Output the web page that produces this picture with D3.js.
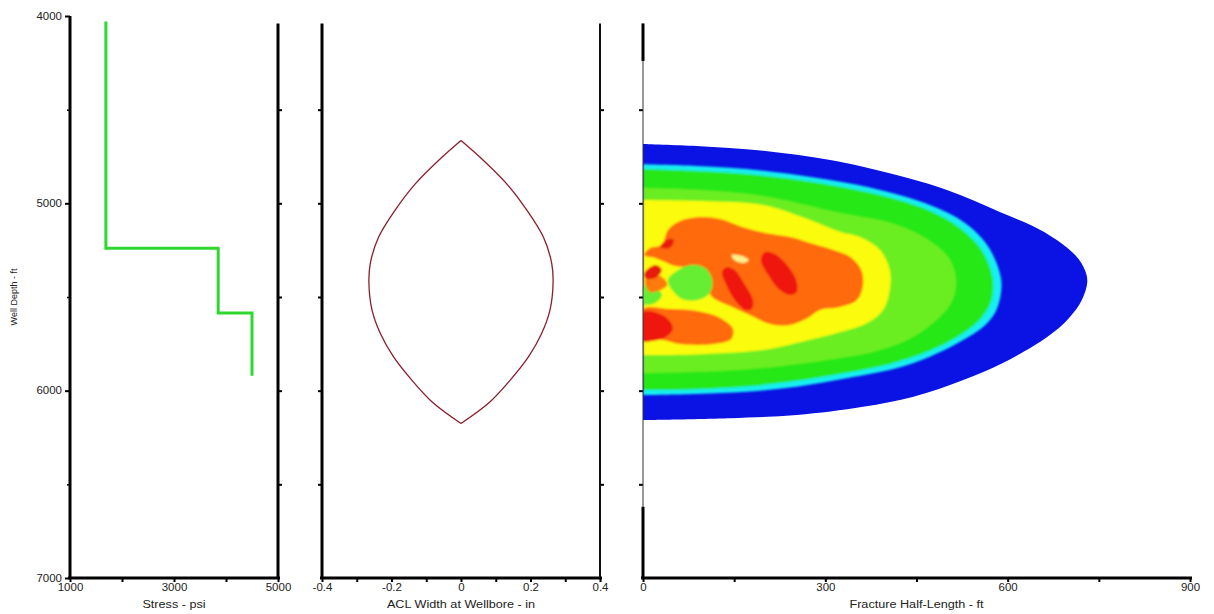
<!DOCTYPE html>
<html>
<head>
<meta charset="utf-8">
<script src="https://cdn.jsdelivr.net/npm/d3@7"></script>
<style>
body { margin: 0; background: #fff; }
text { font-family: "Liberation Sans", Arial, sans-serif; fill: #222; }
</style>
</head>
<body>
<svg id="chart" width="1214" height="614"></svg>
<script>
// stress profile (step per layer)
var stressDepth = [4030, 5240, 5585, 5920];
var stressPsi = [1690, 3850, 4500, 4500];

// ACL width profile at wellbore (half width, mirrored)
var aclDepth = [4665, 4770, 4895, 5035, 5180, 5320, 5425, 5570, 5695, 5820, 5945, 6060, 6175];
var aclWidth = [0, 0.064, 0.131, 0.189, 0.237, 0.261, 0.265, 0.256, 0.232, 0.194, 0.141, 0.083, 0];

// fracture contour bands: [half-length ft, depth ft]
var blueBand = [[0,4683],[88,4694],[198,4719],[308,4769],[417,4849],[500,4929],[587,5046],[660,5153],[711,5276],[727,5356],[731,5420],[722,5516],[701,5612],[665,5714],[592,5852],[527,5943],[445,6032],[362,6086],[253,6130],[143,6147],[0,6157]];
var cyanBand = [[0,4792],[88,4801],[198,4826],[308,4876],[390,4929],[472,5009],[527,5098],[560,5196],[578,5290],[589,5400],[589,5480],[580,5580],[560,5659],[527,5730],[472,5819],[417,5881],[335,5934],[253,5979],[171,6006],[88,6018],[0,6024]];
var greenBand = [[0,4817],[89,4828],[197,4852],[308,4902],[390,4956],[469,5036],[520,5127],[551,5223],[567,5310],[576,5420],[572,5530],[552,5630],[519,5709],[466,5794],[411,5853],[332,5906],[250,5949],[168,5978],[89,5992],[0,5997]];
var limeBand = [[0,4918],[94,4929],[197,4961],[325,5052],[408,5105],[462,5180],[502,5287],[515,5409],[507,5532],[477,5639],[435,5730],[378,5794],[325,5826],[226,5869],[127,5895],[0,5906]];
var yellowBand = [[0,4982],[94,4988],[197,5009],[275,5089],[325,5153],[357,5180],[390,5249],[406,5356],[406,5463],[395,5570],[369,5639],[325,5687],[258,5741],[197,5783],[94,5805],[0,5810]];

// blobs inside the yellow core
var orangeBlob = [[31,5222],[41,5142],[61,5094],[94,5073],[127,5084],[163,5126],[201,5158],[242,5180],[275,5212],[308,5244],[341,5287],[359,5356],[362,5436],[352,5516],[324,5553],[291,5569],[271,5612],[242,5649],[209,5644],[176,5596],[143,5548],[114,5500],[102,5436],[94,5383],[77,5345],[53,5335],[36,5313],[20,5292],[2,5276],[12,5238]];
var orangeLower = [[0,5564],[44,5564],[89,5575],[127,5612],[148,5671],[145,5724],[115,5751],[61,5751],[33,5730],[0,5719]];
var orangeBit = [[3,5409],[28,5388],[40,5436],[12,5474]];
var limeBlob = [[41,5409],[53,5367],[77,5329],[102,5345],[114,5409],[110,5479],[90,5516],[64,5511],[48,5463]];
var limeSpot = [[0,5441],[20,5452],[31,5489],[20,5532],[0,5537]];
var redLower = [[0,5580],[28,5591],[44,5628],[49,5671],[38,5714],[15,5735],[0,5735]];
var redOne = [[138,5340],[151,5356],[168,5436],[181,5516],[179,5564],[168,5569],[151,5516],[137,5436],[130,5367]];
var redTwo = [[201,5260],[217,5270],[237,5329],[252,5409],[253,5473],[242,5489],[225,5463],[206,5383],[194,5302]];
var redTop = [[28,5233],[41,5190],[51,5196],[44,5238]];
var redMid = [[3,5367],[21,5329],[31,5356],[20,5399],[3,5399]];
var paleSpot = [[146,5276],[163,5281],[174,5303],[166,5319],[150,5303]];

var depthTicks = [4000, 5000, 6000, 7000];
var depthMinor = [4500, 5500, 6500];
var borderTicks = [4500, 5000, 5500, 6000, 6500];
var stressTicks = [1000, 3000, 5000];
var stressMinor = [2000, 4000];
var widthTicks = [-0.4, -0.2, 0, 0.2, 0.4];
var widthMinor = [-0.3, -0.1, 0.1, 0.3];
var lenTicks = [0, 300, 600, 900];
var lenMinor = [150, 450, 750];

var svg = d3.select('#chart');

var y = d3.scaleLinear().domain([4000, 7000]).range([16, 578]);
var xStress = d3.scaleLinear().domain([1000, 5000]).range([70, 278]);
var xWidth = d3.scaleLinear().domain([-0.4, 0.4]).range([322, 600]);
var xLen = d3.scaleLinear().domain([0, 900]).range([643, 1190]);
var yBottom = y.range()[1];
var yTop = y(4040);

var defs = svg.append('defs');
defs.append('filter').attr('id', 'soft')
    .attr('x', '-5%').attr('y', '-5%').attr('width', '110%').attr('height', '110%')
    .append('feGaussianBlur').attr('stdDeviation', 1.3);

// ---- fracture contour ----
var contour = d3.line()
    .x(function(d){ return xLen(d[0]); })
    .y(function(d){ return y(d[1]); })
    .curve(d3.curveCatmullRom);
var blob = d3.line()
    .x(function(d){ return xLen(d[0]); })
    .y(function(d){ return y(d[1]); })
    .curve(d3.curveCatmullRomClosed);

defs.append('clipPath').attr('id', 'fracClip')
    .append('path').attr('d', contour(blueBand) + 'Z');

svg.append('path').attr('d', contour(blueBand) + 'Z').attr('fill', '#0a12e4');

var inner = svg.append('g').attr('clip-path', 'url(#fracClip)')
    .append('g').attr('filter', 'url(#soft)');

[[cyanBand, '#18f0f0'], [greenBand, '#26e818'], [limeBand, '#6aee22'], [yellowBand, '#fbfb0c']]
    .forEach(function(b){
        inner.append('path').attr('d', contour(b[0]) + 'Z').attr('fill', b[1]);
    });

[[orangeBlob, '#ff6a08'], [orangeLower, '#ff6a08'], [limeBlob, '#66ee30'], [limeSpot, '#66ee30'],
 [orangeBit, '#ff7a10'], [redLower, '#ee1808'], [redOne, '#ee1808'], [redTwo, '#ee1808'],
 [redTop, '#e81a0a'], [redMid, '#e81a0a'], [paleSpot, '#fff088']]
    .forEach(function(b){
        inner.append('path').attr('d', blob(b[0])).attr('fill', b[1]);
    });

// ---- stress profile ----
svg.append('path')
    .datum(d3.zip(stressPsi, stressDepth))
    .attr('d', d3.line()
        .x(function(d){ return xStress(d[0]); })
        .y(function(d){ return y(d[1]); })
        .curve(d3.curveStepBefore))
    .attr('fill', 'none')
    .attr('stroke', '#2fd82f')
    .attr('stroke-width', 3);

// ---- ACL width lens: two halves so the ends stay pointed ----
var half = d3.line()
    .x(function(d){ return xWidth(d[0]); })
    .y(function(d){ return y(d[1]); })
    .curve(d3.curveCatmullRom);
var right = d3.zip(aclWidth, aclDepth);
var left = right.map(function(d){ return [-d[0], d[1]]; });
[right, left].forEach(function(h){
    svg.append('path')
        .datum(h)
        .attr('d', half)
        .attr('fill', 'none')
        .attr('stroke', '#8a1e2c')
        .attr('stroke-width', 1.3);
});

// ---- axes ----
var styleAxis = function(g, size){
    g.select('.domain').remove();
    g.selectAll('.tick line').attr('stroke', '#000').attr('stroke-width', size);
    g.selectAll('.tick text').attr('font-size', 10).attr('fill', '#222')
        .attr('font-family', '"Liberation Sans", Arial, sans-serif');
};

var numFmt = function(d){ return String(+d.toFixed(1)); };

// depth axis
svg.append('g').attr('transform', 'translate(70,0)')
    .call(d3.axisLeft(y).tickValues(depthTicks).tickSize(5).tickPadding(2).tickFormat(numFmt))
    .call(styleAxis, 2);
svg.append('g').attr('transform', 'translate(70,0)')
    .call(d3.axisLeft(y).tickValues(depthMinor).tickSize(3).tickFormat(''))
    .call(styleAxis, 1.5);
svg.selectAll('g.tick text').attr('transform', 'scale(1.15,1)');

// borders with small depth ticks
var borders = [
    {x: xStress.range()[1], side: 'right'},
    {x: xWidth.range()[0], side: 'left'},
    {x: xWidth.range()[1], side: 'right'},
    {x: xLen.range()[0], side: 'left'}
];
borders.forEach(function(b){
    var ax = b.side == 'right' ? d3.axisRight(y) : d3.axisLeft(y);
    svg.append('g').attr('transform', 'translate(' + b.x + ',0)')
        .call(ax.tickValues(borderTicks).tickSize(4).tickFormat(''))
        .call(styleAxis, 2);
});

// bottom axes
var bottoms = [
    [xStress, stressTicks, stressMinor],
    [xWidth, widthTicks, widthMinor],
    [xLen, lenTicks, lenMinor]
];
bottoms.forEach(function(b){
    var g = svg.append('g').attr('transform', 'translate(0,' + yBottom + ')');
    g.call(d3.axisBottom(b[0]).tickValues(b[1]).tickSize(4).tickPadding(2).tickFormat(numFmt))
        .call(styleAxis, 2);
    g.selectAll('.tick text').attr('transform', 'scale(1.15,1)');
    svg.append('g').attr('transform', 'translate(0,' + yBottom + ')')
        .call(d3.axisBottom(b[0]).tickValues(b[2]).tickSize(4).tickFormat(''))
        .call(styleAxis, 2);
    svg.append('line')
        .attr('x1', b[0].range()[0] - 2).attr('x2', b[0].range()[1] + 2)
        .attr('y1', yBottom).attr('y2', yBottom)
        .attr('stroke', '#000').attr('stroke-width', 3);
});

// vertical frame lines
var vline = function(x, y1, y2, w, col){
    svg.append('line').attr('x1', x).attr('x2', x).attr('y1', y1).attr('y2', y2)
        .attr('stroke', col).attr('stroke-width', w);
};
vline(xStress.range()[0], y(4000), yBottom, 3, '#000');
vline(xStress.range()[1], yTop, yBottom, 3, '#000');
vline(xWidth.range()[0], yTop, yBottom, 3, '#000');
vline(xWidth.range()[1], yTop, yBottom, 2, '#111');
vline(xLen.range()[0], yTop, yBottom, 1, '#333');
vline(xLen.range()[0], yTop, y(4240), 3, '#000');
vline(xLen.range()[0], y(6620), yBottom, 3, '#000');

// titles
var title = function(txt, x, yy){
    svg.append('text')
        .attr('transform', 'translate(' + x + ',' + yy + ') scale(1.15,1)')
        .attr('text-anchor', 'middle')
        .attr('font-size', 11)
        .text(txt);
};
title('Stress - psi', d3.mean(xStress.range()), 608);
title('ACL Width at Wellbore - in', d3.mean(xWidth.range()), 608);
title('Fracture Half-Length - ft', d3.mean(xLen.range()), 608);

svg.append('text')
    .attr('transform', 'translate(17,' + y(5500) + ') rotate(-90)')
    .attr('text-anchor', 'middle')
    .attr('font-size', 9)
    .text('Well Depth - ft');
</script>
</body>
</html>
